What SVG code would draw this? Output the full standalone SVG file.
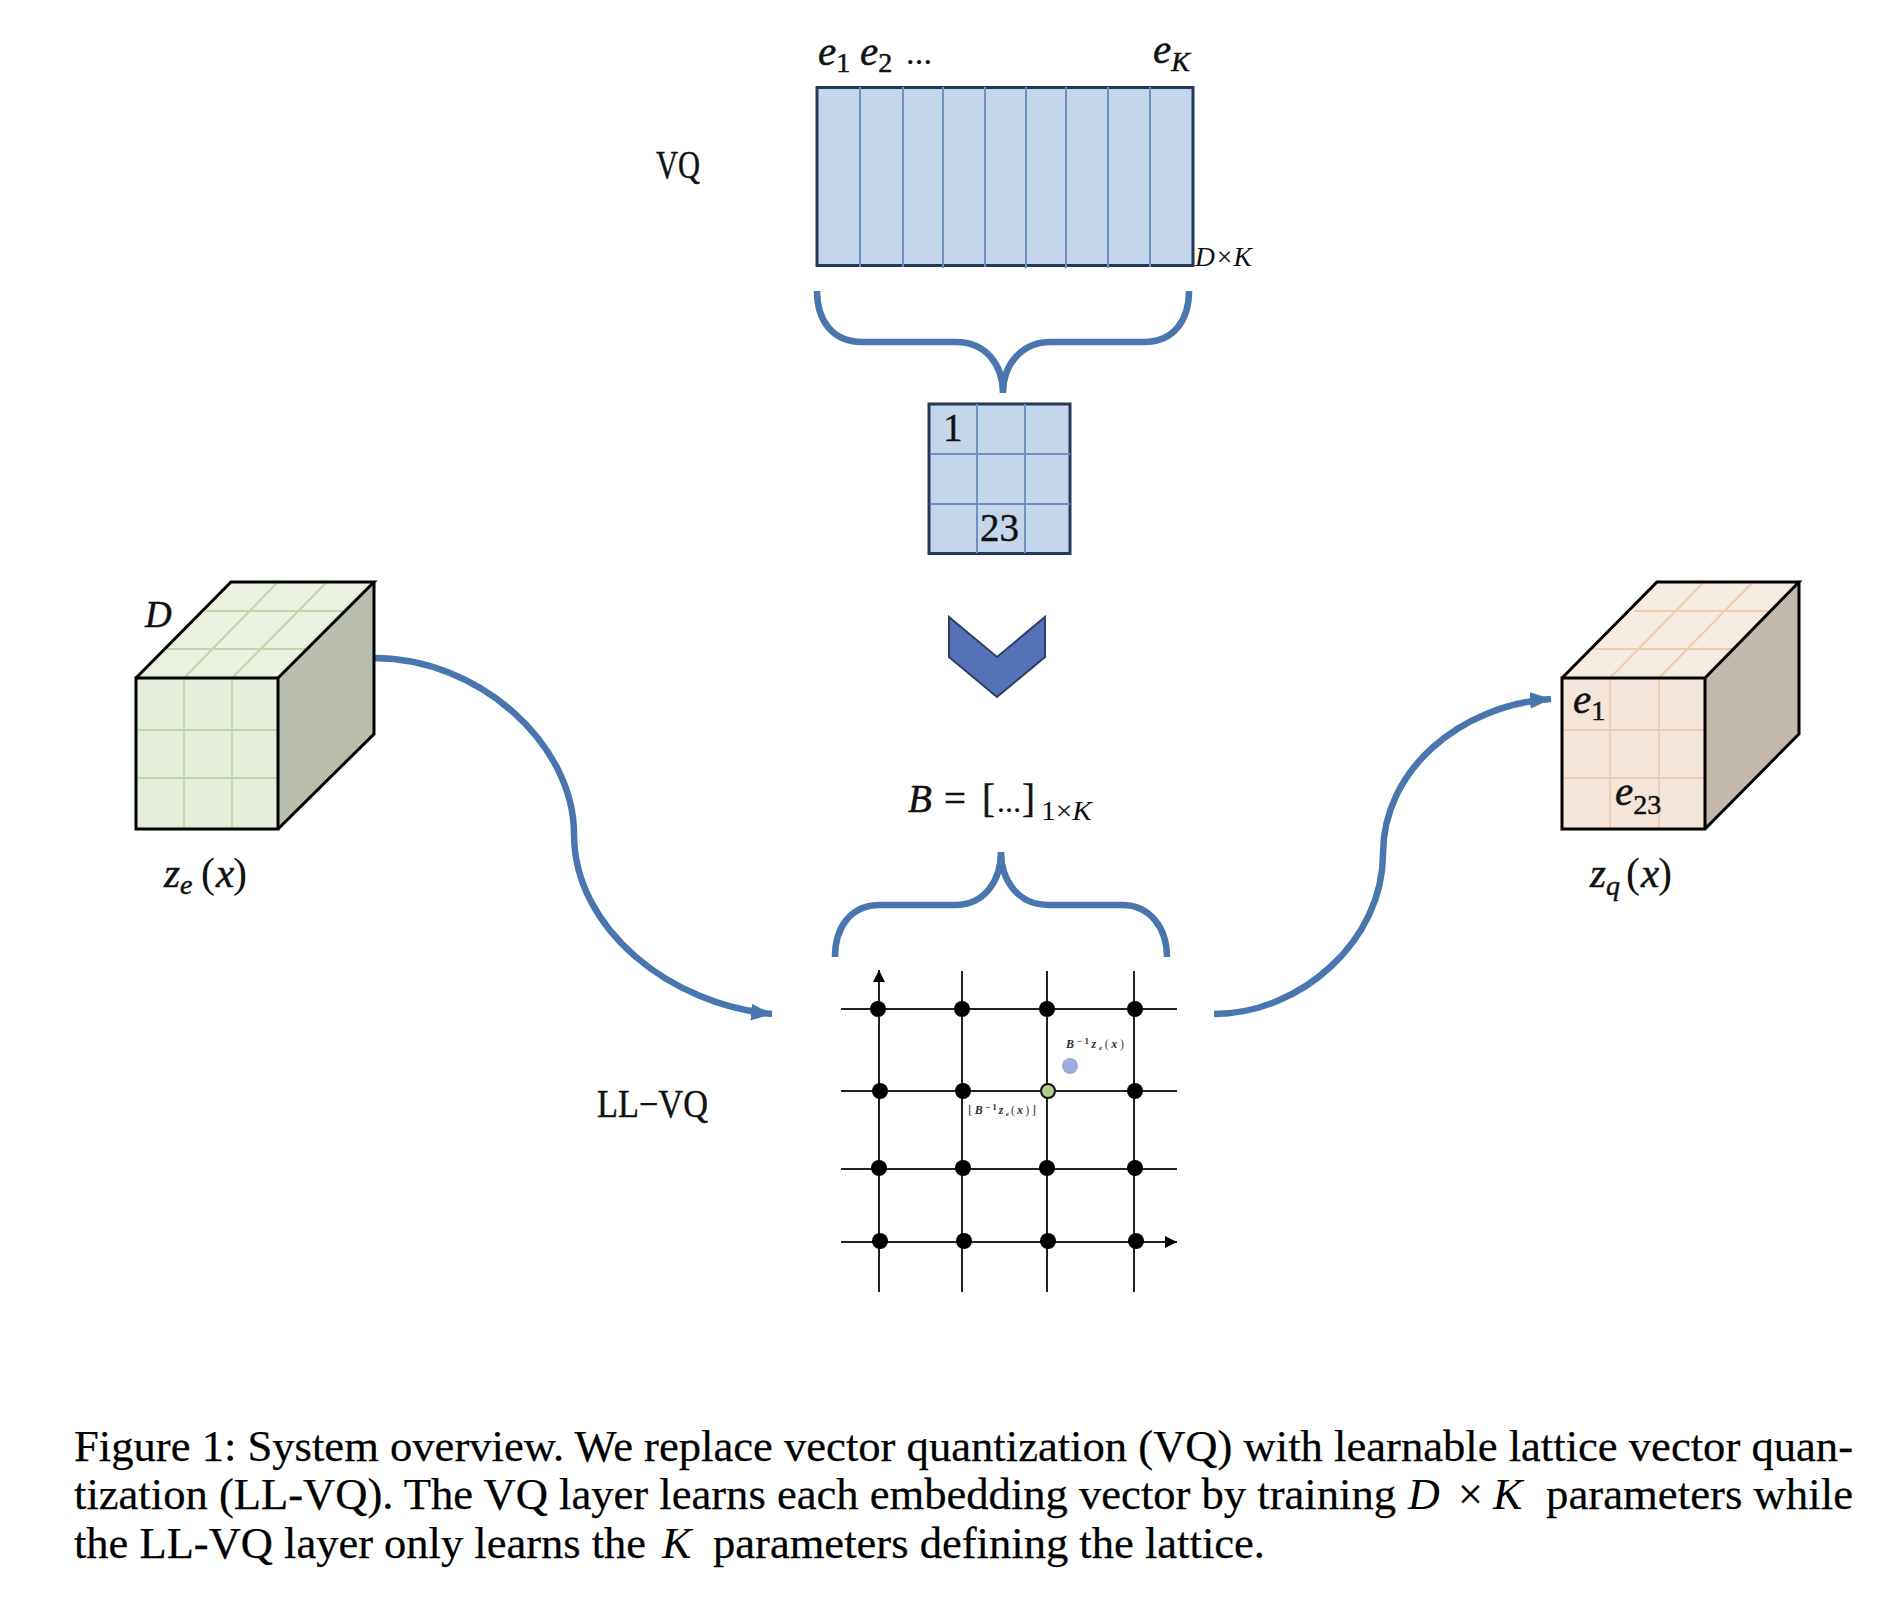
<svg xmlns="http://www.w3.org/2000/svg" width="1884" height="1604" viewBox="0 0 1884 1604">
<defs>
<marker id="arrow" markerUnits="userSpaceOnUse" markerWidth="24" markerHeight="20" refX="21" refY="10" orient="auto"><path d="M0 1.5L21 10L0 18.500z" fill="#4a76b0"/></marker>
<marker id="axis" markerUnits="userSpaceOnUse" markerWidth="14" markerHeight="12" refX="12" refY="6" orient="auto"><path d="M0 0L12 6L0 12z" fill="#000"/></marker>
</defs>
<style>
text{font-family:"Liberation Serif","DejaVu Serif",serif;fill:#111}
.m{font-style:italic;font-size:41px;stroke:#111;stroke-width:.5}
.s{font-size:28px;font-style:italic}
.n{font-size:28px;font-style:normal}
.r{font-size:39px;stroke:#111;stroke-width:.4}
.p{font-size:42px}
.c{font-size:44px;fill:#000;stroke:#000;stroke-width:.25}
.ci{font-size:44px;font-style:italic;fill:#000}
.t{font-size:12px;font-weight:bold;font-style:italic;fill:#333}
.tr{font-size:12px;font-weight:normal;font-style:normal;fill:#444}
.frame{stroke:#26375c;stroke-width:3;fill:#c5d5ea}
.cell{stroke:#6d8fc4;stroke-width:2;fill:none}
.brace,.flow{fill:none;stroke:#4a76b0;stroke-width:6.5}
.edge{fill:none;stroke:#000;stroke-width:3;stroke-linejoin:miter}
.lat{stroke:#222;stroke-width:2;fill:none}
.gg{stroke:#c2d6ab;stroke-width:2;fill:none}
.og{stroke:#eccdaf;stroke-width:2;fill:none}
</style>
<rect width="1884" height="1604" fill="#fff"/>

<g id="connectors">
<path class="flow" marker-end="url(#arrow)" d="M374 658C480 658 574 745 574 834C574 930 672 1005 772 1014"/>
<path class="flow" marker-end="url(#arrow)" d="M1214 1014C1301 1014 1383 940 1383 854C1383 770 1460 705 1551 699"/>
</g>

<g id="vq-codebook">
<rect class="frame" x="817" y="87.500" width="376" height="178"/>
<path class="cell" d="M860 87V267M903 87V267M943 87V268M985 87V267M1026 87V268M1066 87V268M1108 87V268M1150 87V267"/>
<text class="m" x="818" y="65">e<tspan class="n" dy="7">1</tspan></text>
<text class="m" x="860" y="65">e<tspan class="n" dy="7">2</tspan></text>
<text x="906" y="64" font-size="26" font-weight="bold">…</text>
<text class="m" x="1153" y="63">e<tspan class="s" dy="8">K</tspan></text>
<text class="r" x="656" y="178" textLength="44" lengthAdjust="spacingAndGlyphs">VQ</text>
<text class="s" x="1195" y="266" textLength="57" lengthAdjust="spacingAndGlyphs">D×K</text>
</g>

<g id="vq-brace">
<path class="brace" d="M817 291C817 320 832 342 862 342L956 342C986 342 1003 365 1003 393C1003 365 1021 342 1051 342L1144 342C1174 342 1189 320 1189 291"/>
</g>

<g id="index-grid">
<rect class="frame" x="929" y="404" width="141" height="149.500"/>
<path class="cell" d="M977 404V553M1025 404V553M930 454H1070M930 504H1070"/>
<text class="r" x="943" y="441">1</text>
<text class="r" x="980" y="541">23</text>
</g>

<g id="chevron">
<path d="M949 617L997 657L1045 617V657L997 697L949 657z" fill="#5672b9" stroke="#2f3e66" stroke-width="2"/>
</g>

<g id="basis-label">
<text class="m" x="908" y="812" style="font-size:39px">B</text>
<text class="r" x="944" y="812">=</text>
<text class="r" x="982" y="812">[</text>
<text x="997" y="812" font-size="24" font-weight="bold">…</text>
<text class="r" x="1022" y="812">]</text>
<text class="n" x="1041" y="820" textLength="51" lengthAdjust="spacingAndGlyphs">1×<tspan font-style="italic">K</tspan></text>
</g>

<g id="lattice-brace">
<path class="brace" d="M835 957C835 928 850 905 880 905L955 905C985 905 1001 880 1001 852C1001 880 1018 905 1048 905L1122 905C1150 905 1167 928 1167 957"/>
</g>

<g id="ze-cube">
<path d="M136 678L231 582H374L278 678z" fill="#eaf1e0"/>
<path d="M278 678L374 582V734L278 829z" fill="#b8bdae"/>
<rect x="136" y="678" width="142" height="151" fill="#e5eedb"/>
<path class="gg" d="M184 678V829M232 678V829M136 730H278M136 778H278M206 611H343M165 649H306M184 678L278 582M232 678L327 582"/>
<path class="edge" d="M136 678H278V829H136zM136 678L231 582H374L278 678M374 582V734L278 829"/>
<text class="m" x="145" y="627" style="font-size:37px">D</text>
<text class="m" x="164" y="887">z<tspan class="s" dy="7">e</tspan></text>
<text class="p" x="201" y="887">(</text>
<text class="m" x="216" y="887">x</text>
<text class="p" x="233" y="887">)</text>
</g>

<g id="zq-cube">
<path d="M1562 678L1657 582H1799L1705 678z" fill="#f5ebe1"/>
<path d="M1705 678L1799 582V734L1705 829z" fill="#c2b8ac"/>
<rect x="1562" y="678" width="143" height="151" fill="#f3e5da"/>
<path class="og" d="M1610 678V829M1659 678V829M1562 730H1705M1562 778H1705M1634 611H1770M1593 649H1734M1610 678L1704 582M1659 678L1753 582"/>
<path class="edge" d="M1562 678H1705V829H1562zM1562 678L1657 582H1799L1705 678M1799 582V734L1705 829"/>
<text class="m" x="1573" y="713">e<tspan class="n" dy="7">1</tspan></text>
<text class="m" x="1615" y="805">e<tspan class="n" dy="9">23</tspan></text>
<text class="m" x="1590" y="887">z<tspan class="s" dy="8">q</tspan></text>
<text class="p" x="1626" y="887">(</text>
<text class="m" x="1641" y="887">x</text>
<text class="p" x="1658" y="887">)</text>
</g>

<g id="lattice">
<path class="lat" marker-end="url(#axis)" d="M879 1292V970"/>
<path class="lat" marker-end="url(#axis)" d="M841 1242H1177"/>
<path class="lat" d="M962 971V1292M1047 971V1292M1134 971V1292M841 1009H1177M841 1091H1177M841 1169H1177"/>
<g fill="#000">
<circle cx="878" cy="1009" r="8"/><circle cx="962" cy="1009" r="8"/><circle cx="1047" cy="1009" r="8"/><circle cx="1135" cy="1009" r="8"/>
<circle cx="880" cy="1091" r="8"/><circle cx="963" cy="1091" r="8"/><circle cx="1135" cy="1091" r="8"/>
<circle cx="879" cy="1168" r="8"/><circle cx="963" cy="1168" r="8"/><circle cx="1047" cy="1168" r="8"/><circle cx="1135" cy="1168" r="8"/>
<circle cx="880" cy="1241" r="8"/><circle cx="964" cy="1241" r="8"/><circle cx="1048" cy="1241" r="8"/><circle cx="1136" cy="1241" r="8"/>
</g>
<circle cx="1048" cy="1091" r="7" fill="#b0cf8c" stroke="#111" stroke-width="2"/>
<circle cx="1070" cy="1066" r="8" fill="#9aace0"/>
<text class="t" x="1066" y="1048" textLength="58">B<tspan font-size="9" dy="-4" font-style="normal">−1</tspan><tspan dy="4">z</tspan><tspan font-size="7" dy="2">e</tspan><tspan class="tr" dy="-2">(</tspan>x<tspan class="tr">)</tspan></text>
<text class="t" x="968" y="1114" textLength="68"><tspan class="tr">⌊</tspan>B<tspan font-size="9" dy="-4" font-style="normal">−1</tspan><tspan dy="4">z</tspan><tspan font-size="7" dy="2">e</tspan><tspan class="tr" dy="-2">(</tspan>x<tspan class="tr">)⌋</tspan></text>
<text class="r" x="597" y="1117" textLength="111" lengthAdjust="spacingAndGlyphs">LL−VQ</text>
</g>

<g id="caption">
<text class="c" x="74" y="1461" textLength="1779" lengthAdjust="spacingAndGlyphs">Figure 1: System overview. We replace vector quantization (VQ) with learnable lattice vector quan-</text>
<text class="c" x="74" y="1509" textLength="1322" lengthAdjust="spacingAndGlyphs">tization (LL-VQ). The VQ layer learns each embedding vector by training</text>
<text class="ci" x="1408" y="1509">D</text>
<text class="c" x="1458" y="1509">×</text>
<text class="ci" x="1493" y="1509">K</text>
<text class="c" x="1546" y="1509" textLength="307" lengthAdjust="spacingAndGlyphs">parameters while</text>
<text class="c" x="74" y="1558" textLength="572" lengthAdjust="spacingAndGlyphs">the LL-VQ layer only learns the</text>
<text class="ci" x="662" y="1558">K</text>
<text class="c" x="713" y="1558" textLength="552" lengthAdjust="spacingAndGlyphs">parameters defining the lattice.</text>
</g>
</svg>
